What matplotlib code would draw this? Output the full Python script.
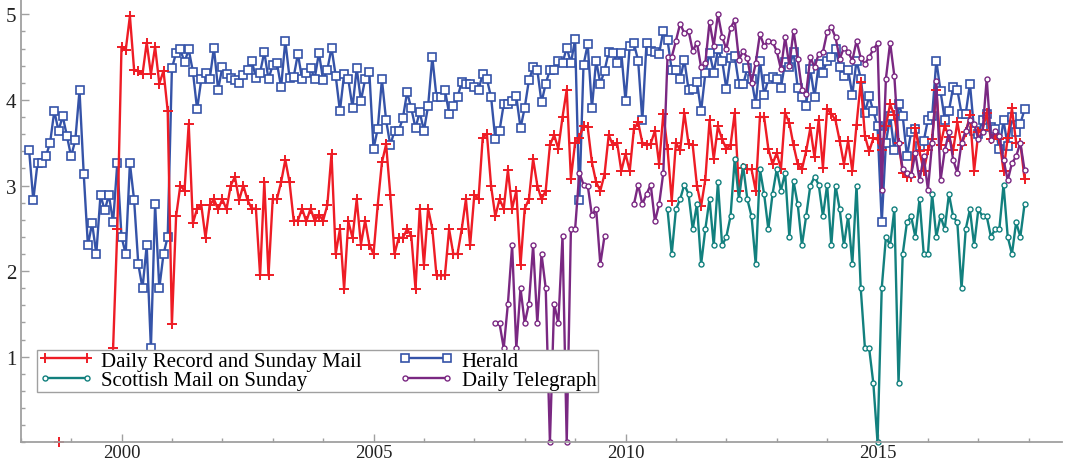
# Scottish newspapers: monthly series 1998-2017, styled like a Mathematica DateListPlot.
import numpy as np
import matplotlib.pyplot as plt
from matplotlib.ticker import MultipleLocator, FixedLocator

nan = np.nan

# Herald, monthly from Mar 1998
herald_start = 1998 + 2 / 12
herald = [3.41, 2.83, 3.26, 3.26, 3.34, 3.50, 3.87, 3.64, 3.81, 3.58,
          3.34, 3.53, 4.11, 3.14, 2.30, 2.56, 2.20, 2.89, 2.71, 2.89, 2.57, 3.26,
          2.40, 2.20, 3.26, 2.83, 2.08, 1.80, 2.30, 1.10, 2.78, 1.80, 2.20, 2.40,
          4.37, 4.55, 4.59, 4.44, 4.59, 4.33, 3.89, 4.24, 4.31, 4.24, 4.61, 4.12,
          4.38, 4.30, 4.26, 4.23, 4.20, 4.29, 4.35, 4.46, 4.26, 4.32, 4.56, 4.24,
          4.41, 4.43, 4.15, 4.69, 4.26, 4.27, 4.54, 4.24, 4.32, 4.37, 4.25, 4.55,
          4.23, 4.35, 4.61, 4.28, 3.87, 4.30, 4.24, 3.91, 4.37, 3.99, 4.24, 4.33,
          3.43, 3.66, 4.24, 3.76, 3.47, 3.64, 3.64, 3.79, 4.09, 3.90, 3.67, 3.86,
          3.64, 3.93, 4.50, 4.03, 4.03, 4.12, 3.84, 3.93, 4.03, 4.21, 4.19, 4.18,
          4.15, 4.12, 4.30, 4.24, 4.03, 3.54, 3.64, 3.95, 3.95, 3.99, 4.04, 3.67,
          3.91, 4.23, 4.38, 4.35, 3.97, 4.19, 4.35, 4.35, 4.45, 4.43, 4.61, 4.43,
          4.71, 2.83, 4.41, 4.65, 3.90, 4.46, 4.19, 4.34, 4.56, 4.55, 4.43, 4.55,
          3.99, 4.63, 4.66, 4.46, 3.76, 4.67, 4.57, 4.56, 4.54, 4.81, 4.70, 4.35,
          4.35, 4.24, 4.47, 4.12, 4.13, 4.21, 3.87, 4.31, 4.55, 4.32, 4.59, 4.46,
          4.13, 4.49, 4.51, 4.18, 4.18, 4.37, 4.24, 3.95, 4.46, 4.06, 4.24, 4.27,
          4.24, 4.14, 4.44, 4.38, 4.56, 4.14, 4.03, 3.93, 4.36, 4.03, 4.42, 4.32,
          4.46, 4.50, 4.60, 4.38, 4.28, 4.35, 4.06, 4.46, 4.25, 3.85, 4.04, 3.87,
          3.69, 2.57, 3.50, 3.81, 3.41, 3.95, 3.81, 3.34, 3.62, 3.66, 3.46, 3.52,
          3.77, 3.81, 4.46, 4.10, 3.77, 3.87, 4.15, 4.12, 3.84, 3.84, 4.19, 3.64,
          3.60, 3.77, 3.84, 3.68, 3.66, 3.43, 3.76, 3.46, 3.80, 3.62, 3.72, 3.89]

# Daily Record and Sunday Mail, monthly from Oct 1998 (gap to Nov 1999)
record_start = 1998 + 9 / 12
record = [0.0] + [nan] * 12 + [1.10, 2.49,
          4.62, 4.58, 4.98, 4.35, 4.34, 4.30, 4.67, 4.30, 4.62, 4.19, 4.34, 3.87,
          1.38, 2.64, 3.00, 2.94, 3.72, 2.56, 2.73, 2.77, 2.39, 2.77, 2.84, 2.72,
          2.84, 2.72, 3.00, 3.10, 2.83, 3.00, 2.83, 2.73, 2.73, 1.95, 3.04, 1.95,
          2.84, 2.84, 3.04, 3.30, 3.04, 2.59, 2.59, 2.73, 2.58, 2.73, 2.59, 2.66,
          2.59, 2.77, 3.37, 2.20, 2.49, 1.79, 2.58, 2.39, 2.84, 2.31, 2.59, 2.31,
          2.20, 2.77, 3.27, 3.48, 2.89, 2.20, 2.39, 2.39, 2.49, 2.41, 1.79, 2.73,
          2.07, 2.73, 2.49, 1.95, 1.95, 1.95, 2.49, 2.20, 2.20, 2.49, 2.84, 2.30,
          2.89, 2.84, 3.56, 3.60, 2.99, 2.64, 2.84, 2.73, 3.18, 2.73, 2.94, 2.07,
          2.73, 2.84, 3.31, 3.00, 2.84, 2.94, 3.47, 3.59, 3.43, 3.80, 4.12, 3.08,
          3.50, 3.56, 3.70, 3.68, 3.27, 3.04, 2.94, 3.13, 3.59, 3.47, 3.50, 3.17,
          3.37, 3.17, 3.66, 3.74, 3.50, 3.47, 3.49, 3.64, 3.25, 3.84, 3.43, 2.82,
          3.50, 3.41, 3.85, 3.49, 3.47, 3.00, 2.76, 3.07, 3.76, 3.31, 3.69, 3.54,
          3.43, 3.47, 3.85, 2.94, 3.21, 3.19, 3.19, 2.94, 3.80, 3.80, 3.43, 3.25,
          3.38, 3.19, 3.85, 3.73, 3.47, 3.25, 3.19, 3.40, 3.67, 3.33, 3.77, 3.21,
          3.89, 3.84, 3.76, 3.52, 3.25, 3.52, 3.17, 3.71, 4.21, 3.58, 3.40, 3.55,
          3.54, 3.41, 3.70, 3.95, 3.82, 3.50, 3.15, 3.10, 3.10, 3.67, 3.40, 3.17,
          3.41, 3.54, 4.11, 3.47, 3.70, 3.57, 3.41, 3.74, 3.47, 3.62, 3.82, 3.17,
          3.62, 3.65, 3.85, 3.54, 3.59, 3.54, 3.17, 3.56, 3.90, 3.50, 3.50, 3.08]

# Scottish Mail on Sunday, monthly from Nov 2010
scottish_start = 2010 + 10 / 12
scottish = [2.72, 2.20,
            2.72, 2.84, 3.01, 2.90, 2.49, 2.78, 2.08, 2.49, 2.84, 2.30, 3.04, 2.30,
            2.40, 2.64, 3.31, 2.84, 3.23, 2.84, 2.64, 2.08, 3.19, 2.90, 2.49, 2.90,
            3.19, 2.94, 3.15, 2.40, 3.05, 2.78, 2.30, 2.64, 3.00, 3.10, 3.01, 2.64,
            3.01, 2.30, 3.00, 2.72, 2.30, 2.64, 2.08, 3.00, 1.80, 1.10, 1.10, 0.69,
            0.00, 1.80, 2.40, 2.30, 2.72, 0.69, 2.20, 2.57, 2.64, 2.40, 2.84, 2.20,
            2.20, 2.90, 2.40, 2.64, 2.49, 2.90, 2.64, 2.57, 1.80, 2.49, 2.72, 2.30,
            2.72, 2.64, 2.64, 2.40, 2.49, 2.49, 3.01, 2.40, 2.20, 2.57, 2.40, 2.78]

# Daily Telegraph, monthly from Jun 2007 (gap Sep 2009 - Feb 2010)
telegraph_start = 2007 + 5 / 12
telegraph = [1.39, 1.39, 1.10, 1.62, 2.30, 1.10, 1.80,
             1.39, 1.62, 2.30, 1.39, 2.20, 1.80, 0.00, 1.62, 1.39, 2.41, 0.00, 2.49,
             2.49, 3.15, 3.01, 3.00, 2.65, 2.73, 2.08, 2.41, nan, nan, nan, nan,
             nan, nan, 2.78, 3.01, 2.78, 2.90, 3.01, 2.58, 2.78, 3.15, 4.50, 4.50,
             4.69, 4.89, 4.78, 4.81, 4.57, 4.67, 4.38, 4.43, 4.91, 4.63, 5.00, 4.74,
             4.59, 4.84, 4.93, 4.47, 4.57, 4.49, 4.20, 4.43, 4.77, 4.63, 4.69, 4.68,
             4.57, 4.36, 4.73, 4.40, 4.81, 4.48, 4.12, 4.07, 4.50, 4.38, 4.54, 4.56,
             4.79, 4.85, 4.73, 4.48, 4.61, 4.56, 4.46, 4.69, 4.49, 4.42, 4.50, 4.59,
             4.66, 2.95, 4.25, 4.67, 4.28, 3.50, 3.19, 3.15, 3.12, 3.38, 3.06, 3.34,
             2.95, 3.50, 4.22, 3.06, 3.41, 3.62, 3.30, 3.15, 3.50, 3.64, 3.77, 3.72,
             3.54, 3.63, 4.25, 3.53, 3.64, 3.58, 3.30, 3.06, 3.26, 3.34, 3.50, 3.18]


def months(start, values):
    return start + np.arange(len(values)) / 12


plt.rcParams['font.family'] = ['Liberation Serif', 'DejaVu Serif']

fig = plt.figure(figsize=(10.66, 4.64), dpi=100)
ax = fig.add_axes([20.7 / 1066, 20.7 / 464, 1041.3 / 1066, 443.3 / 464])

red, blue, teal, purple = '#ee1c25', '#3553a8', '#12807e', '#7a2882'

h_her, = ax.plot(months(herald_start, herald), herald, color=blue, lw=1.7,
                 marker='s', ms=5.5, mfc='white', mec=blue, mew=1.2,
                 clip_on=False, label='Herald')
h_rec, = ax.plot(months(record_start, record), record, color=red, lw=1.7,
                 marker='+', ms=7.5, mew=1.4, clip_on=False,
                 label='Daily Record and Sunday Mail')
h_sco, = ax.plot(months(scottish_start, scottish), scottish, color=teal, lw=1.7,
                 marker='o', ms=3.6, mfc='white', mec=teal, mew=1.0,
                 clip_on=False, label='Scottish Mail on Sunday')
h_tel, = ax.plot(months(telegraph_start, telegraph), telegraph, color=purple,
                 lw=1.7, marker='o', ms=3.6, mfc='white', mec=purple, mew=1.0,
                 clip_on=False, label='Daily Telegraph')

ax.set_xlim(1998.0, 2018.66)
ax.set_ylim(0, 443.3 / 85.6)

ax.xaxis.set_major_locator(FixedLocator([2000, 2005, 2010, 2015]))
ax.xaxis.set_minor_locator(MultipleLocator(1))
ax.yaxis.set_major_locator(FixedLocator([1, 2, 3, 4, 5]))
ax.yaxis.set_minor_locator(MultipleLocator(0.2))

for side in ['top', 'right']:
    ax.spines[side].set_visible(False)
for side in ['left', 'bottom']:
    ax.spines[side].set_color('#a0a0a0')
    ax.spines[side].set_linewidth(1.3)

ax.tick_params(which='both', direction='in', color='#a0a0a0', width=1.0,
               labelcolor='#222222')
ax.tick_params(axis='y', labelsize=15, pad=3)
ax.tick_params(axis='x', labelsize=13.5, pad=1)
ax.tick_params(which='major', length=6)
ax.tick_params(which='minor', length=3)

leg = ax.legend(handles=[h_rec, h_sco, h_her, h_tel], ncol=2,
                loc='lower left', mode='expand',
                bbox_to_anchor=(37 / 1066, 71 / 464, 561 / 1066, 41 / 464),
                bbox_transform=fig.transFigure, borderaxespad=0,
                fontsize=15, numpoints=2, handlelength=2.6,
                handletextpad=0.4, labelspacing=0.0, borderpad=0.08,
                columnspacing=1.0, fancybox=False, framealpha=1,
                edgecolor='#a0a0a0')
leg.get_frame().set_linewidth(1.0)

plt.savefig('out.png', dpi=100)
